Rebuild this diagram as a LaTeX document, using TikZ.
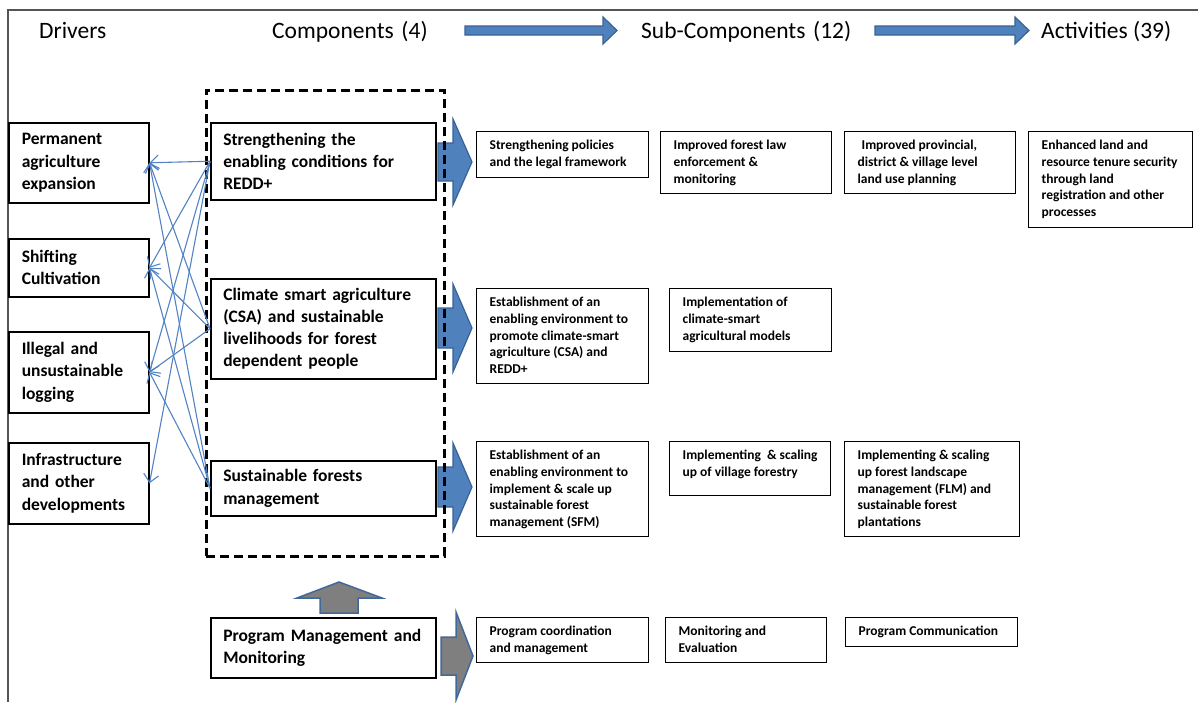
\documentclass[tikz,border=0pt]{standalone}
\usepackage{fontspec}
\setmainfont{Carlito}
\usetikzlibrary{arrows.meta}
\definecolor{blu}{HTML}{4F81BD}
\definecolor{bluedge}{HTML}{3A6195}
\definecolor{gry}{HTML}{7F7F7F}
\definecolor{gryedge}{HTML}{41689A}
\definecolor{framec}{HTML}{555555}
\definecolor{linkc}{HTML}{5283C4}
\newcommand\subtxt[3]{\parbox[c][#2][t]{#1}{\raggedright\rule{0pt}{18pt}#3}}
\begin{document}
\begin{tikzpicture}[x=1pt,y=-1pt,
  hdr/.style={font=\fontsize{23.5}{27}\selectfont, inner sep=0pt, anchor=base west},
  drv/.style={draw, line width=1.5pt, anchor=north west, text width=114pt,
    inner xsep=13pt, inner ysep=0pt, align=left,
    font=\fontsize{17.5}{22.3}\selectfont\bfseries},
  cmp/.style={drv, text width=200pt, inner xsep=12.5pt},
  sub/.style={draw, line width=1.3pt, anchor=north west, inner xsep=13pt,
    inner ysep=0pt, font=\fontsize{13.5}{16.7}\selectfont\bfseries},
  barrow/.style={fill=blu, draw=bluedge, line width=1.2pt, line join=miter},
  garrow/.style={fill=gry, draw=gryedge, line width=1.5pt, line join=miter},
  lnk/.style={draw=linkc, line width=1.1pt, -{Straight Barb[length=8pt,width=15pt]}},
  grpbox/.style={draw, line width=2.6pt, dash pattern=on 9pt off 5pt,
    anchor=north west, inner sep=0pt},
  framel/.style={fill=framec}
]
\useasboundingbox (0,0) rectangle (1198,702);

% frame (top and left edges)
\fill[framel] (6.5,8.5) rectangle (1198,11);
\fill[framel] (6.5,8.5) rectangle (9,702);

% headers
\node[hdr] (hd) at (39,38) {Drivers};
\node[hdr] (hc) at (272,38) {Components\hspace{0.1em} (4)};
\node[hdr] (hs) at (641,38) {Sub-Components\hspace{0.1em} (12)};
\node[hdr] (ha) at (1041,38) {Activities (39)};

% header arrows
\filldraw[barrow] (465,26) -- (603,26) -- (603,17) -- (617,30.5) -- (603,44) -- (603,35) -- (465,35) -- cycle;
\filldraw[barrow] (875,26) -- (1015,26) -- (1015,17) -- (1029,30.5) -- (1015,44) -- (1015,35) -- (875,35) -- cycle;

% component block arrows
\filldraw[barrow] (438,143) -- (453,143) -- (453,119) -- (472,162) -- (453,205) -- (453,181) -- (438,181) -- cycle;
\filldraw[barrow] (438,308) -- (453,308) -- (453,284) -- (472,328) -- (453,372) -- (453,348) -- (438,348) -- cycle;
\filldraw[barrow] (438,467) -- (453,467) -- (453,443) -- (472,487) -- (453,531) -- (453,507) -- (438,507) -- cycle;
\filldraw[garrow] (441,637) -- (456,637) -- (456,612) -- (473,656) -- (456,700) -- (456,675) -- (441,675) -- cycle;
\filldraw[garrow] (320,613) -- (320,598) -- (297,598) -- (339,582) -- (382,598) -- (358,598) -- (358,613) -- cycle;

% dashed group
\node[grpbox, minimum width=238pt, minimum height=466pt] (grp) at (205,89) {};

% drivers
\node[drv, minimum height=80pt] (perm) at (8,122) {Permanent\\agriculture\\expansion};
\node[drv, minimum height=58pt] (shift) at (8,238) {Shifting\\Cultivation};
\node[drv, minimum height=81pt] (ill) at (8,331) {Illegal and\\unsustainable\\logging};
\node[drv, minimum height=81pt] (infra) at (8,442) {Infrastructure\\and other\\developments};

% components
\node[cmp, minimum height=77pt] (c1) at (210,122) {Strengthening the\\enabling conditions for\\REDD+};
\node[cmp, minimum height=100pt] (c2) at (210,278) {Climate smart agriculture\\(CSA) and sustainable\\livelihoods for forest\\dependent people};
\node[cmp, minimum height=55pt] (c3) at (210,460) {Sustainable forests\\management};
\node[cmp, minimum height=60pt] (c4) at (210,617) {Program Management and\\Monitoring};

% connectors
\draw[lnk] (c1.west) -- (perm.east);
\draw[lnk] (c1.west) -- (shift.east);
\draw[lnk] (c1.west) -- (ill.east);
\draw[lnk] (c1.west) -- (infra.east);
\draw[lnk] (c2.west) -- (perm.east);
\draw[lnk] (c2.west) -- (shift.east);
\draw[lnk] (c2.west) -- (ill.east);
\draw[lnk] (c3.west) -- (perm.east);
\draw[lnk] (c3.west) -- (shift.east);
\draw[lnk] (c3.west) -- (ill.east);

% sub-components
\node[sub] (s11) at (476,131) {\subtxt{146pt}{46pt}{Strengthening policies\\and the legal framework}};
\node[sub] (s12) at (660,131) {\subtxt{145pt}{62pt}{Improved forest law\\enforcement \&\\monitoring}};
\node[sub] (s13) at (844,131) {\subtxt{145pt}{62pt}{\hspace{4pt}Improved provincial,\\district \& village level\\land use planning}};
\node[sub] (s14) at (1028,131) {\subtxt{138pt}{96pt}{Enhanced land and\\resource tenure security\\through land\\registration and other\\processes}};
\node[sub] (s21) at (476,288) {\subtxt{146pt}{95pt}{Establishment of an\\enabling environment to\\promote climate-smart\\agriculture (CSA) and\\REDD+}};
\node[sub] (s22) at (669,288) {\subtxt{136pt}{63pt}{Implementation of\\climate-smart\\agricultural models}};
\node[sub] (s31) at (476,441) {\subtxt{146pt}{95pt}{Establishment of an\\enabling environment to\\implement \& scale up\\sustainable forest\\management (SFM)}};
\node[sub] (s32) at (669,441) {\subtxt{135pt}{54pt}{Implementing\ \ \& scaling\\up of village forestry}};
\node[sub] (s33) at (844,441) {\subtxt{149pt}{95pt}{Implementing \& scaling\\up forest landscape\\management (FLM) and\\sustainable forest\\plantations}};
\node[sub] (s41) at (476,617) {\subtxt{146pt}{45pt}{Program coordination\\and management}};
\node[sub] (s42) at (665,617) {\subtxt{135pt}{45pt}{Monitoring and\\Evaluation}};
\node[sub] (s43) at (845,617) {\subtxt{146pt}{29pt}{Program Communication}};
\end{tikzpicture}
\end{document}
